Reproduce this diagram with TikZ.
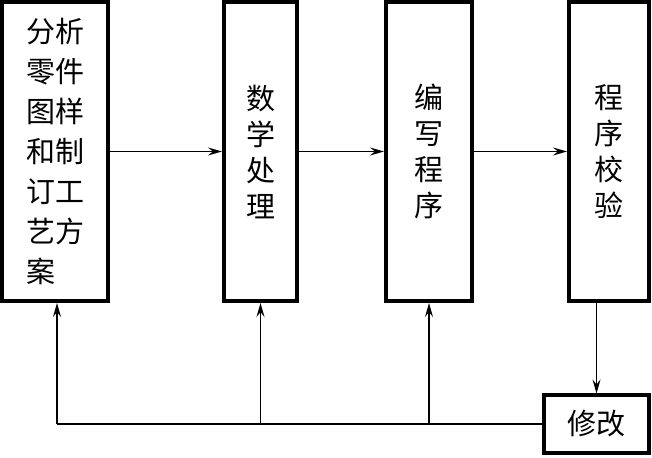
\documentclass[tikz,border=0pt]{standalone}
\usepackage{fontspec}
\newfontfamily\cjk{Noto Sans CJK SC}
\usetikzlibrary{arrows.meta}
\begin{document}
\begin{tikzpicture}[x=1pt,y=1pt,
  box/.style={draw,line width=4pt,inner sep=0pt,font=\cjk\fontsize{29}{36}\selectfont,align=center},
  conn/.style={line width=1.4pt,-{Stealth[length=14pt,width=8pt,inset=5pt]}},
  plain/.style={line width=1.4pt}]
\useasboundingbox (0,0) rectangle (652,457);
\node[box,align=left,font=\cjk\fontsize{29}{40}\selectfont,minimum width=106pt,minimum height=299pt] (a) at (55,305.5) {分析\\零件\\图样\\和制\\订工\\艺方\\案};
\node[box,minimum width=73pt,minimum height=299pt] (b) at (260.5,305.5) {数\\学\\处\\理};
\node[box,minimum width=86pt,minimum height=299pt] (c) at (429,305.5) {编\\写\\程\\序};
\node[box,minimum width=80pt,minimum height=299pt] (d) at (609,305.5) {程\\序\\校\\验};
\node[box,minimum width=105pt,minimum height=57pt] (e) at (596.5,33) {修改};
\draw[conn] (a) -- (b);
\draw[conn] (b) -- (c);
\draw[conn] (c) -- (d);
\draw[conn] (d.south -| e.north) -- (e.north);
\coordinate (fa) at ([xshift=2pt]e.west -| a.south);
\coordinate (fb) at (e.west -| b.south);
\coordinate (fc) at (e.west -| c.south);
\draw[plain] (e.west) -- (fa);
\draw[conn] (fa) -- (fa |- a.south);
\draw[conn] (fb) -- (b.south);
\draw[conn] (fc) -- (c.south);
\end{tikzpicture}
\end{document}
